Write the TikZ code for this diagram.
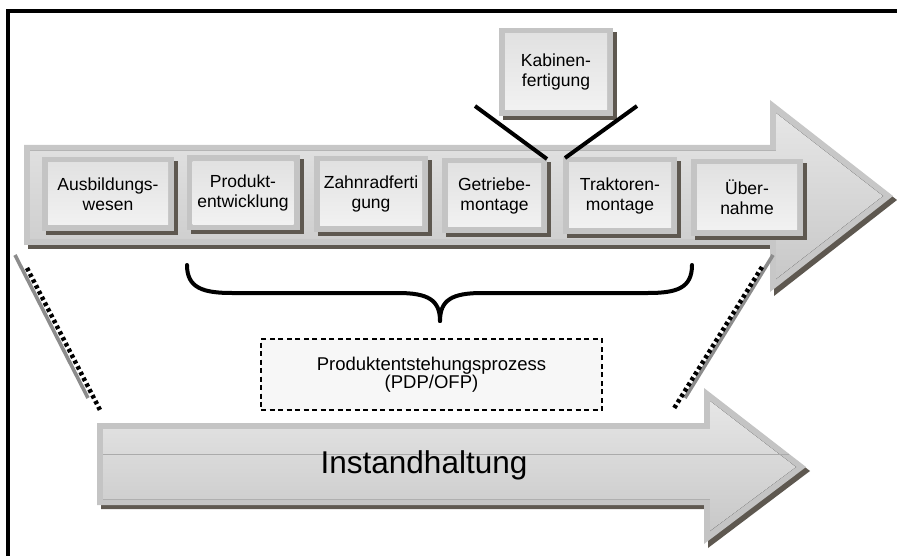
\documentclass[tikz,border=0pt]{standalone}
\usepackage{fontspec}
\setmainfont{Liberation Sans}
\definecolor{bandgray}{HTML}{C4C4C4}
\definecolor{shadowc}{HTML}{5E5850}
\definecolor{boxtop}{HTML}{E0E0E0}
\definecolor{boxbot}{HTML}{F3F3F3}
\definecolor{arrowtop}{HTML}{E6E6E6}
\definecolor{arrowbot}{HTML}{C8C8C8}
\definecolor{guide}{HTML}{8C8C8C}
\definecolor{notefill}{HTML}{F7F7F7}
\newcommand\procfont{\fontsize{17.5}{20}\selectfont}
\begin{document}
\begin{tikzpicture}[x=1pt,y=-1pt,
  procbox/.style={rectangle, fill=bandgray, inner sep=0pt, align=center, font=\procfont,
    preaction={fill=shadowc, transform canvas={shift={(4pt,-4pt)}}},
    path picture={\fill[top color=boxtop, bottom color=boxbot]
      ([shift={(6pt,-6pt)}]path picture bounding box.north west) rectangle
      ([shift={(-6pt,6pt)}]path picture bounding box.south east);}},
  notebox/.style={rectangle, draw=black, fill=notefill, dashed, dash pattern=on 5pt off 3.5pt,
    line width=1.6pt, align=center, inner sep=0pt, font=\fontsize{18.5}{17.5}\selectfont},
  joinline/.style={line width=4pt, black},
  guideline/.style={line width=3.6pt, guide},
  dotline/.style={line width=4.5pt, black, dash pattern=on 3.5pt off 3pt},
  bracestroke/.style={line width=4pt, black, line cap=round, line join=round}]
\useasboundingbox (0,0) rectangle (897,556);

% frame (top and left edges)
\draw[line width=3.6pt] (8,556) -- (8,11) -- (897,11);

% upper process arrow
\fill[shadowc] (28,149) -- (774,149) -- (774,104) -- (897,200) -- (774,296) -- (774,249) -- (28,249) -- cycle;
\fill[bandgray!95!white] (24,145) -- (770,145) -- (770,100) -- (893,196) -- (770,292) -- (770,245) -- (24,245) -- cycle;
\fill[top color=arrowtop, bottom color=arrowbot] (30,151) -- (776,151) -- (776,113) -- (883,196) -- (776,279) -- (776,239) -- (30,239) -- cycle;

% lower maintenance arrow
\fill[shadowc] (101,427) -- (708,427) -- (708,392) -- (810,471) -- (708,548) -- (708,509) -- (101,509) -- cycle;
\fill[bandgray] (97,423) -- (704,423) -- (704,388) -- (806,467) -- (704,544) -- (704,505) -- (97,505) -- cycle;
\fill[top color=arrowtop, bottom color=arrowbot] (103,429) -- (710,429) -- (710,401) -- (796,467) -- (710,531) -- (710,499) -- (103,499) -- cycle;
\draw[line width=0.9pt, black!33] (103,454) -- (789,454);
\node[font=\fontsize{31.5}{36}\selectfont, anchor=base] (inst) at (424,473) {Instandhaltung};

% guide lines between the two arrows
\draw[guideline] (15,255) -- (88,398);
\draw[dotline] (27,268) -- (100,410);
\draw[guideline] (773,255) -- (685,398);
\draw[dotline] (762,267) -- (673,410);

% process steps
\node[procbox, minimum width=132, minimum height=74] (aus) at (108,194) {Ausbildungs-\\wesen};
\node[procbox, minimum width=113, minimum height=75] (pro) at (243,193) {Produkt-\\entwicklung};
\node[procbox, minimum width=114, minimum height=76] (zahn) at (371,194) {Zahnradferti\\gung};
\node[procbox, minimum width=105, minimum height=75] (getr) at (494.5,195.5) {Getriebe-\\montage};
\node[procbox, minimum width=114, minimum height=77] (trak) at (620,195.5) {Traktoren-\\montage};
\node[procbox, minimum width=112, minimum height=77] (ueb) at (747,197.5) {Über-\\nahme};
\node[procbox, minimum width=114, minimum height=88] (kab) at (556,72) {Kabinen-\\fertigung};

% cabin production feeding into the assembly line
\coordinate (kabL) at (475,106);
\coordinate (kabR) at (637,106);
\coordinate (getrIn) at (547,159);
\coordinate (trakIn) at (565,158);
\draw[joinline] (kabL) -- (getrIn);
\draw[joinline] (kabR) -- (trakIn);

% brace over the product development steps
\coordinate (brL) at (187,265);
\coordinate (brR) at (692,265);
\coordinate (brTip) at (440,321);
\draw[bracestroke] (brL) .. controls (187,288) and (203,293) .. (232,293) -- (398,293)
  .. controls (428,293) and (440,300) .. (brTip);
\draw[bracestroke] (brTip) .. controls (440,300) and (452,293) .. (482,293) -- (648,293)
  .. controls (677,293) and (692,288) .. (brR);

% label of the braced group
\node[notebox, minimum width=341, minimum height=71] (pep) at (431.5,374.5) {Produktentstehungsprozess\\(PDP/OFP)};
\end{tikzpicture}
\end{document}
